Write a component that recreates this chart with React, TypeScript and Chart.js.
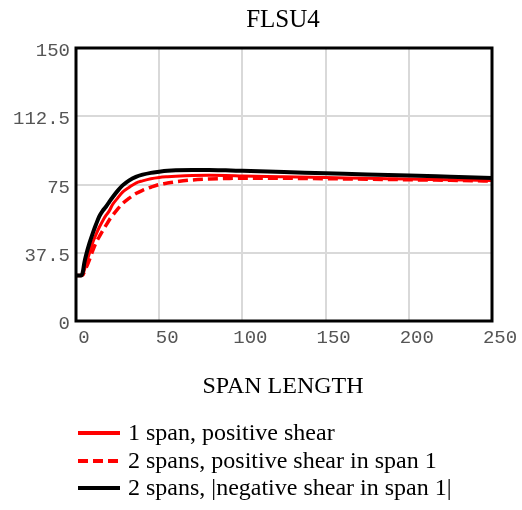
import React, { useEffect, useRef } from "react";
import { Chart, registerables } from "chart.js";

Chart.register(...registerables);

const TITLE = "FLSU4";
const X_TITLE = "SPAN LENGTH";
const SERIES_LABELS = [
  "1 span, positive shear",
  "2 spans, positive shear in span 1",
  "2 spans, |negative shear in span 1|",
];
const SPAN = [0, 3, 4, 5, 6, 8, 10, 12, 14, 16, 18, 20, 22, 25, 28, 32, 36, 40, 45, 50, 55, 60, 70, 80, 90, 100, 125, 150, 175, 200, 225, 250];
const ONE_SPAN_POS = [25, 25, 25.5, 28, 31, 37, 43, 47.5, 51.5, 55, 58, 60.5, 64, 67.5, 70.8, 73.5, 75.8, 77, 78.2, 78.9, 79.3, 79.6, 80, 80.1, 80, 79.7, 79.2, 78.8, 78.4, 78, 77.6, 77.2];
const TWO_SPAN_POS = [25, 25, 25.2, 27, 29, 33.5, 38.5, 43, 46.3, 49.5, 52.5, 55.5, 58, 61.5, 64.5, 67.5, 70, 71.8, 73.5, 75, 75.8, 76.5, 77.5, 78, 78.3, 78.5, 78.4, 78.2, 77.9, 77.6, 77.3, 76.9];
const TWO_SPAN_NEG = [25, 25, 26.5, 32, 36, 42.5, 48, 53, 57.5, 60.5, 62.8, 65.5, 68, 71.5, 74.5, 77.3, 79.2, 80.4, 81.4, 82, 82.5, 82.8, 83, 83, 82.8, 82.5, 81.8, 81.2, 80.5, 80, 79.3, 78.6];
const X_TICKS = [0, 50, 100, 150, 200, 250];
const Y_TICKS = [0, 37.5, 75, 112.5, 150];

const MONO = "'Liberation Mono', 'Courier New', monospace";
const SERIF = "'Liberation Serif', 'Times New Roman', serif";

const pts = (ys: number[]) => SPAN.map((x, i) => ({ x, y: ys[i] }));

const decorPlugin = {
  id: "decor",
  afterDraw(chart: any) {
    const { ctx, chartArea } = chart;
    const { left, top, right, bottom } = chartArea;
    ctx.save();
    // frame
    ctx.strokeStyle = "#000";
    ctx.lineWidth = 3;
    ctx.strokeRect(left, top, right - left, bottom - top);
    // title
    ctx.fillStyle = "#000";
    ctx.textAlign = "center";
    ctx.textBaseline = "alphabetic";
    ctx.font = `25px ${SERIF}`;
    ctx.fillText(TITLE, 283, 27);
    ctx.font = `24px ${SERIF}`;
    ctx.fillText(X_TITLE, 283, 393);
    // legend
    const rows = [433, 461, 488];
    ctx.textAlign = "left";
    ctx.textBaseline = "middle";
    ctx.font = `24px ${SERIF}`;
    [0, 1, 2].forEach((di, r) => {
      const ds = chart.data.datasets[di];
      const y = rows[r];
      ctx.beginPath();
      ctx.setLineDash(ds.borderDash || []);
      ctx.strokeStyle = ds.borderColor;
      ctx.lineWidth = 4;
      ctx.moveTo(78, y);
      ctx.lineTo(120, y);
      ctx.stroke();
      ctx.setLineDash([]);
      ctx.fillStyle = "#000";
      ctx.fillText(ds.label, 128, y + 1);
    });
    ctx.restore();
  },
};

export default function App() {
  const ref = useRef<HTMLCanvasElement | null>(null);
  useEffect(() => {
    document.body.style.margin = "0";
    const canvas = ref.current!;
    const chart = new Chart(canvas, {
      type: "line",
      data: {
        datasets: [
          {
            label: SERIES_LABELS[0],
            data: pts(ONE_SPAN_POS),
            borderColor: "#ff0000",
            borderWidth: 3,
            pointRadius: 0,
            cubicInterpolationMode: "monotone",
            order: 2,
          },
          {
            label: SERIES_LABELS[1],
            data: pts(TWO_SPAN_POS),
            borderColor: "#ff0000",
            borderWidth: 3.5,
            borderDash: [10, 5],
            pointRadius: 0,
            cubicInterpolationMode: "monotone",
            order: 1,
          },
          {
            label: SERIES_LABELS[2],
            data: pts(TWO_SPAN_NEG),
            borderColor: "#000000",
            borderWidth: 4,
            pointRadius: 0,
            cubicInterpolationMode: "monotone",
            order: 0,
          },
        ],
      },
      options: {
        responsive: false,
        animation: false,
        devicePixelRatio: 1,
        layout: { padding: { top: 48, right: 30, left: 0, bottom: 0 } },
        plugins: { legend: { display: false }, title: { display: false }, tooltip: { enabled: false } },
        scales: {
          x: {
            type: "linear",
            min: 0,
            max: 250,
            afterBuildTicks: (s: any) => {
              s.ticks = X_TICKS.map((v) => ({ value: v }));
            },
            afterFit: (s: any) => {
              s.height = 189;
            },
            ticks: {
              font: { family: MONO, size: 19 },
              color: "#555",
              padding: 6,
              labelOffset: 8,
              maxRotation: 0,
              autoSkip: false,
            },
            grid: { color: "#d9d9d9", lineWidth: 2, drawTicks: false },
            border: { display: false },
          },
          y: {
            type: "linear",
            min: 0,
            max: 150,
            afterBuildTicks: (s: any) => {
              s.ticks = Y_TICKS.map((v) => ({ value: v }));
            },
            afterFit: (s: any) => {
              s.width = 76;
            },
            ticks: {
              font: { family: MONO, size: 19 },
              color: "#555",
              padding: 6,
              labelOffset: 3,
              autoSkip: false,
              callback: (v: any) => String(v),
            },
            grid: { color: "#d9d9d9", lineWidth: 2, drawTicks: false },
            border: { display: false },
          },
        },
      },
      plugins: [decorPlugin],
    } as any);
    return () => chart.destroy();
  }, []);
  return (
    <div style={{ width: 522, height: 510 }}>
      <canvas ref={ref} width={522} height={510} style={{ display: "block" }} />
    </div>
  );
}
